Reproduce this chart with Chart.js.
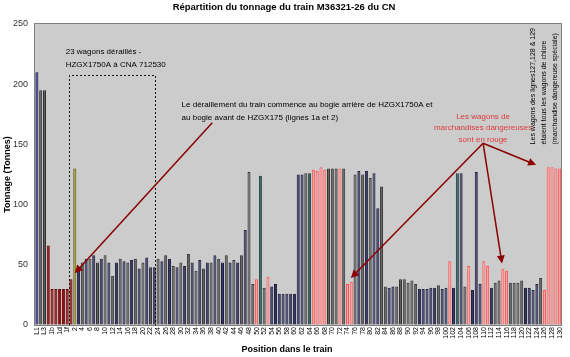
<!DOCTYPE html>
<html><head><meta charset="utf-8">
<script src="https://cdn.jsdelivr.net/npm/chart.js@4/dist/chart.umd.min.js"></script>
<style>html,body{margin:0;padding:0;background:#fff}canvas{display:block}</style>
</head><body>
<canvas id="c" width="570" height="357"></canvas>
<script>
const categories = ["L1","L2","L3","1","1b","1c","1d","1e","1f","1a",
"2","3","4","5","6","7","8","9","10","11","12","13","14","15","16","17","18","19","20",
"21","22","23","24","25","26","27","28","29","30","31","32","33","34","35","36","37","38","39","40",
"41","42","43","44","45","46","47","48","49","50","51","52","53","54","55","56","57","58","59","60",
"61","62","63","64","65","66","67","68","69","70","71","72","73","74","75","76","77","78","79","80",
"81","82","83","84","85","86","87","88","89","90","91","92","93","94","95","96","97","98","99","100",
"101","102","103","104","105","106","107","108","109","110","111","112","113","114","115","116","117","118","119","120",
"121","122","123","124","125","126","127","128","129","130"];

const tonnage = [210,195,195,66,30,30,30,30,30,38,130,
47,52,55,55,58,52,55,58,52,41,52,55,53,52,54,55,47,52,56,48,48,55,53,58,55,49,48,52,49,59,52,45,
54,47,52,52,58,55,52,58,52,54,52,58,79,127,34,38,124,31,40,32,34,26,26,26,26,26,
125,125,126,126,129,128,131,129,130,130,130,130,130,34,36,125,128,125,128,122,126,97,115,
32,31,32,32,38,38,35,37,34,30,30,30,31,31,33,30,31,53,31,126,126,32,49,29,127,34,53,49,31,35,37,47,45,35,35,35,37,31,31,29,34,39,29,131,131,130,130];

// car type per position: B lead loco, L loco, R buffer, Y HZGX175, N/G/T ordinary cars, D dangerous goods
const carTypes = ["B","L","L","R","R","R","R","R","R","R","Y",
"N","G","N","G","N","G","N","G","N","G","N","G","N","G","N","G","N","G","N","G","N","G","N","G","N","G","N","G","N","G","N","G",
"N","G","N","G","N","G","N","G","N","G","N","G","N","G","G","D","T","G","D","N","N","N","N","N","N","N",
"N","N","G","T","D","D","D","D","G","G","G","D","G","D","D","G","N","G","N","G","N","N","G",
"G","N","N","G","G","G","G","G","G","N","N","N","N","N","G","N","N","D","N","T","N","G","D","N","N","N","D","D","N","G","G","D","D","G","G","G","G","N","N","N","N","G","D","D","D","D","D"];

const yTicks = [0,50,100,150,200,250];

const FONT = "'Liberation Sans', Arial, sans-serif";
const fills = {B:'#30308a',L:'#5c5c5c',R:'#990000',Y:'#a3a326',N:'#343468',G:'#606060',T:'#2f6262',D:'#ffa2a2'};
const borders = {B:'#1a1a50',L:'#2e2e2e',R:'#600000',Y:'#5a5a1a',N:'#1f1f3d',G:'#333333',T:'#1b3b3b',D:'#ff5555'};

function arrow(ctx,x1,y1,x2,y2){
  const ang=Math.atan2(y2-y1,x2-x1), L=8, W=4;
  ctx.beginPath(); ctx.moveTo(x1,y1); ctx.lineTo(x2-L*0.8*Math.cos(ang), y2-L*0.8*Math.sin(ang)); ctx.stroke();
  ctx.beginPath(); ctx.moveTo(x2,y2);
  ctx.lineTo(x2-L*Math.cos(ang)+W*Math.sin(ang), y2-L*Math.sin(ang)-W*Math.cos(ang));
  ctx.lineTo(x2-L*Math.cos(ang)-W*Math.sin(ang), y2-L*Math.sin(ang)+W*Math.cos(ang));
  ctx.closePath(); ctx.fill();
}

const annot = {
  id:'annot',
  beforeDatasetsDraw(chart){
    const {ctx, chartArea:a} = chart;
    ctx.save(); ctx.fillStyle='#cccccc'; ctx.fillRect(a.left,a.top,a.right-a.left,a.bottom-a.top); ctx.restore();
  },
  beforeDraw(chart){
    const {ctx, chartArea:a} = chart;
    ctx.save(); ctx.fillStyle='#cccccc'; ctx.fillRect(a.left,a.top,a.right-a.left,a.bottom-a.top); ctx.restore();
  },
  afterDraw(chart){
    const {ctx, chartArea:a, scales:{x,y}} = chart;
    const X = v=>x.getPixelForValue(v), Y = v=>y.getPixelForValue(v);
    ctx.save();
    ctx.strokeStyle='#808080'; ctx.lineWidth=1;
    ctx.strokeRect(Math.round(a.left)-0.5, Math.round(a.top)-0.5, Math.round(a.right-a.left)+1, Math.round(a.bottom-a.top)+1);
    // dashed box
    ctx.strokeStyle='#111'; ctx.setLineDash([2,2]);
    const bl=Math.round(X(8.5))+0.5, br=Math.round(X(31.3))+0.5, bt=Math.round(Y(208))+0.5, bb=Math.round(Y(0));
    ctx.beginPath(); ctx.moveTo(bl,bb); ctx.lineTo(bl,bt); ctx.lineTo(br,bt); ctx.lineTo(br,bb); ctx.stroke();
    ctx.setLineDash([]);
    // texts
    ctx.fillStyle='#000'; ctx.font='8px '+FONT; ctx.textBaseline='middle'; ctx.textAlign='left';
    ctx.fillText('23 wagons déraillés -', X(7.6), Y(226.5));
    ctx.fillText('HZGX1750A à CNA 712530', X(7.6), Y(216.5));
    ctx.fillText('Le déraillement du train commence au bogie arrière de HZGX1750A et', X(38.2), Y(182.5));
    ctx.fillText('au bogie avant de HZGX175 (lignes 1a et 2)', X(38.2), Y(172.5));
    // red text
    ctx.fillStyle='#dd3a3a'; ctx.textAlign='center';
    ctx.fillText('Les wagons de', X(117.8), Y(173));
    ctx.fillText('marchandises dangereuses', X(117.8), Y(163.5));
    ctx.fillText('sont en rouge', X(117.8), Y(154));
    // vertical text
    ctx.fillStyle='#000'; ctx.font='7px '+FONT; ctx.textAlign='left';
    const vt=['Les wagons des lignes127,128 & 129','étaient tous les wagons de chlore','(marchandise dangereuse spéciale)'];
    const vx=[130.9,133.9,136.8];
    vt.forEach((t,k)=>{ ctx.save(); ctx.translate(X(vx[k]), Y(150)); ctx.rotate(-Math.PI/2); ctx.fillText(t,0,0); ctx.restore(); });
    // arrows
    ctx.strokeStyle='#8b0000'; ctx.fillStyle='#8b0000'; ctx.lineWidth=1.5;
    arrow(ctx, X(46.3), Y(168), X(10), Y(43));
    const ox=X(117.8), oy=Y(151);
    arrow(ctx, ox, oy, X(82.9), Y(39));
    arrow(ctx, ox, oy, X(122.8), Y(51));
    arrow(ctx, ox, oy, X(131.8), Y(133));
    // x axis title
    ctx.fillStyle='#000'; ctx.font='bold 9px '+FONT; ctx.textAlign='center';
    ctx.fillText('Position dans le train', 287, 350);
    ctx.restore();
  }
};

new Chart(document.getElementById('c'), {
  type:'bar',
  data:{ labels:categories, datasets:[{
    data:tonnage,
    backgroundColor: carTypes.map(t=>fills[t]),
    borderColor: carTypes.map(t=>borders[t]),
    borderWidth:1,
    barPercentage:0.8, categoryPercentage:1
  }]},
  options:{
    responsive:false, animation:false,
    layout:{padding:{left:0,right:2,top:0,bottom:0}},
    plugins:{
      legend:{display:false}, tooltip:{enabled:false},
      title:{display:true, text:'Répartition du tonnage du train M36321-26 du CN', color:'#000',
        font:{size:9.5, weight:'bold', family:FONT}, padding:{top:2,bottom:10.6}}
    },
    scales:{
      x:{
        grid:{display:false, drawTicks:false}, border:{display:true,color:'#333'},
        ticks:{autoSkip:false, minRotation:90, maxRotation:90, padding:2, color:'#000',
          font:{size:7, family:FONT}, callback:(v,i)=> i%2===0 ? categories[i] : ''},
        afterFit(s){ s.height=32; }
      },
      y:{
        min:0, max:250,
        afterBuildTicks(s){ s.ticks = yTicks.map(v=>({value:v})); },
        ticks:{color:'#333', padding:7, font:{size:9, family:FONT}},
        grid:{color:'#808080', drawTicks:false},
        border:{display:true, color:'#808080'},
        title:{display:true, text:'Tonnage (Tonnes)', color:'#000', font:{size:9, weight:'bold', family:FONT}, padding:{top:2,bottom:0}},
        afterFit(s){ s.width=35; }
      }
    }
  },
  plugins:[annot]
});
</script>
</body></html>
